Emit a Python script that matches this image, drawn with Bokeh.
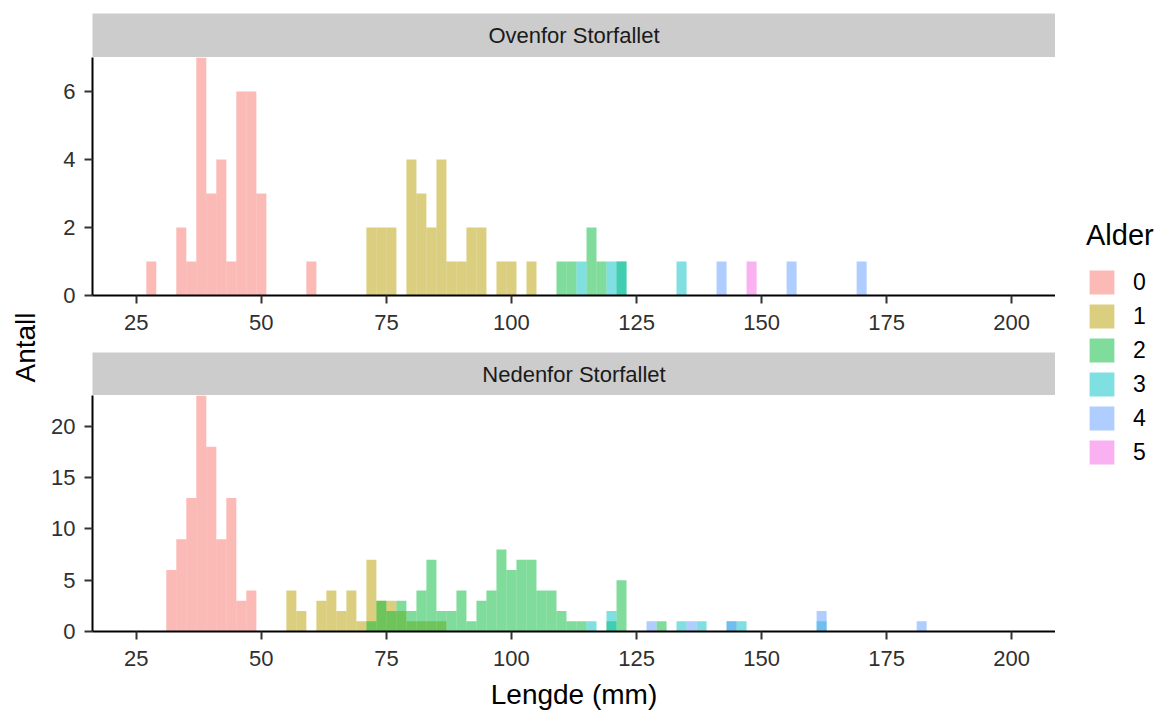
import math
from bokeh.plotting import figure
from bokeh.layouts import column, row
from bokeh.models import Range1d, FixedTicker, Legend, LegendItem
from bokeh.core.properties import value
from bokeh.embed import file_html
from bokeh.resources import INLINE

# ---------------- data ----------------
BIN_WIDTH = 2
AGES = ["0", "1", "2", "3", "4", "5"]
COLORS = ["#F8766D", "#B79F00", "#00BA38", "#00BFC4", "#619CFF", "#F564E3"]
PANELS = ["Ovenfor Storfallet", "Nedenfor Storfallet"]
X_TICKS = [25, 50, 75, 100, 125, 150, 175, 200]
Y_TICKS_TOP = [0, 2, 4, 6]
Y_TICKS_BOTTOM = [0, 5, 10, 15, 20]

# Ovenfor Storfallet: bin left edges (mm) and counts per age
top_age0_bins = [27, 33, 35, 37, 39, 41, 43, 45, 47, 49, 59]
top_age0_counts = [1, 2, 1, 7, 3, 4, 1, 6, 6, 3, 1]
top_age1_bins = [71, 73, 75, 79, 81, 83, 85, 87, 89, 91, 93, 97, 99, 103]
top_age1_counts = [2, 2, 2, 4, 3, 2, 4, 1, 1, 2, 2, 1, 1, 1]
top_age2_bins = [109, 111, 115, 117, 121]
top_age2_counts = [1, 1, 2, 1, 1]
top_age3_bins = [113, 119, 121, 133]
top_age3_counts = [1, 1, 1, 1]
top_age4_bins = [141, 155, 169]
top_age4_counts = [1, 1, 1]
top_age5_bins = [147]
top_age5_counts = [1]

# Nedenfor Storfallet
bot_age0_bins = [31, 33, 35, 37, 39, 41, 43, 45, 47]
bot_age0_counts = [6, 9, 13, 23, 18, 9, 13, 3, 4]
bot_age1_bins = [55, 57, 61, 63, 65, 67, 69, 71, 73, 75, 77, 79, 81, 83, 85]
bot_age1_counts = [4, 2, 3, 4, 2, 4, 1, 7, 3, 3, 2, 1, 1, 1, 1]
bot_age2_bins = [71, 73, 75, 77, 79, 81, 83, 85, 87, 89, 91, 93, 95, 97, 99,
                 101, 103, 105, 107, 109, 111, 113, 119, 121, 129]
bot_age2_counts = [1, 3, 2, 3, 2, 4, 7, 2, 2, 4, 1, 3, 4, 8, 6,
                   7, 7, 4, 4, 2, 1, 1, 1, 5, 1]
bot_age3_bins = [115, 119, 133, 137, 143, 145, 161]
bot_age3_counts = [1, 2, 1, 1, 1, 1, 1]
bot_age4_bins = [127, 135, 143, 161, 181]
bot_age4_counts = [1, 1, 1, 2, 1]
bot_age5_bins = []
bot_age5_counts = []

top_data = [(top_age0_bins, top_age0_counts), (top_age1_bins, top_age1_counts),
            (top_age2_bins, top_age2_counts), (top_age3_bins, top_age3_counts),
            (top_age4_bins, top_age4_counts), (top_age5_bins, top_age5_counts)]
bot_data = [(bot_age0_bins, bot_age0_counts), (bot_age1_bins, bot_age1_counts),
            (bot_age2_bins, bot_age2_counts), (bot_age3_bins, bot_age3_counts),
            (bot_age4_bins, bot_age4_counts), (bot_age5_bins, bot_age5_counts)]

# ---------------- style ----------------
FONT = "Liberation Sans"
X_RANGE = (16.25, 208.75)
LEFT_BORDER = 44
MAIN_W = LEFT_BORDER + 963
TOTAL_H = 713


def strip(title, top_border, frame_h):
    s = figure(width=MAIN_W, height=frame_h + top_border, x_range=Range1d(0, 1),
               y_range=Range1d(0, 1), toolbar_location=None, output_backend="svg",
               x_axis_type=None, y_axis_type=None,
               min_border_left=LEFT_BORDER, min_border_right=0,
               min_border_top=top_border, min_border_bottom=0)
    s.background_fill_color = "#CCCCCC"
    s.outline_line_color = None
    s.grid.visible = False
    s.text(x=[0.5], y=[0.5], text=[title], text_align="center",
           text_baseline="middle", text_font=value(FONT),
           text_font_size="22px", text_color="#1A1A1A")
    return s


def panel(data, ymax, yticks, frame_h, bottom_border, xlabel=None):
    p = figure(width=MAIN_W, height=frame_h + bottom_border,
               x_range=Range1d(*X_RANGE), y_range=Range1d(0, ymax),
               toolbar_location=None, output_backend="svg",
               min_border_left=LEFT_BORDER, min_border_right=0,
               min_border_top=0, min_border_bottom=bottom_border)
    p.outline_line_color = None
    p.grid.visible = False
    p.background_fill_color = "white"
    for (bins, counts), col in zip(data, COLORS):
        if not bins:
            continue
        p.quad(left=bins, right=[b + BIN_WIDTH for b in bins],
               bottom=0, top=counts, fill_color=col, fill_alpha=0.5,
               line_color=None)
    p.xaxis.ticker = FixedTicker(ticks=X_TICKS)
    p.yaxis.ticker = FixedTicker(ticks=yticks)
    for ax in (p.xaxis, p.yaxis):
        ax.axis_line_color = "black"
        ax.axis_line_width = 2
        ax.major_tick_line_color = "#333333"
        ax.major_tick_line_width = 2
        ax.major_tick_out = 8
        ax.major_tick_in = 0
        ax.minor_tick_line_color = None
        ax.major_label_text_font = FONT
        ax.major_label_text_font_size = "22px"
        ax.major_label_text_color = "#303030"
    p.xaxis.major_label_standoff = 11
    p.yaxis.major_label_standoff = 9
    if xlabel:
        p.xaxis.axis_label = xlabel
        p.xaxis.axis_label_text_font = FONT
        p.xaxis.axis_label_text_font_size = "28px"
        p.xaxis.axis_label_text_font_style = "normal"
        p.xaxis.axis_label_text_color = "black"
        p.xaxis.axis_label_standoff = 10
    return p


s1 = strip(PANELS[0], 13, 44)
p1 = panel(top_data, 7, Y_TICKS_TOP, 238, 57)
s2 = strip(PANELS[1], 0, 43)
p2 = panel(bot_data, 23, Y_TICKS_BOTTOM, 236, TOTAL_H - 57 - 295 - 43 - 236,
           xlabel="Lengde (mm)")
main = column(s1, p1, s2, p2, spacing=0)

# y axis title
yl = figure(width=48, height=TOTAL_H, x_range=Range1d(0, 48), y_range=Range1d(0, TOTAL_H),
            toolbar_location=None, output_backend="svg", x_axis_type=None,
            y_axis_type=None, min_border=0)
yl.outline_line_color = None
yl.grid.visible = False
yl.text(x=[25], y=[TOTAL_H - 347], text=["Antall"], angle=math.pi / 2,
        text_align="center", text_baseline="middle", text_font=value(FONT),
        text_font_size="28px", text_color="black")

# legend (keys drawn from zero-size proxy renderers)
LG_W = 1162 - 48 - MAIN_W
lg = figure(width=LG_W, height=TOTAL_H, x_range=Range1d(0, 1), y_range=Range1d(0, 1),
            toolbar_location=None, output_backend="svg", x_axis_type=None,
            y_axis_type=None, min_border=0)
lg.outline_line_color = None
lg.grid.visible = False
items = []
for age, col in zip(AGES, COLORS):
    r = lg.quad(left=[0], right=[0], top=[0], bottom=[0], fill_color=col,
                fill_alpha=0.5, line_color=None)
    items.append(LegendItem(label=age, renderers=[r]))
legend = Legend(items=items, location=(31, TOTAL_H - 467), title="Alder",
                title_text_font=FONT, title_text_font_size="29px",
                title_text_font_style="normal", title_text_color="black",
                title_standoff=15,
                label_text_font=FONT, label_text_font_size="23px",
                label_text_color="black", label_standoff=16,
                glyph_width=31, glyph_height=30, spacing=4, padding=0, margin=0,
                border_line_color=None, background_fill_alpha=0)
lg.add_layout(legend, "center")

layout = row(yl, main, lg, spacing=0)

open("out.html", "w").write(file_html(layout, INLINE))
